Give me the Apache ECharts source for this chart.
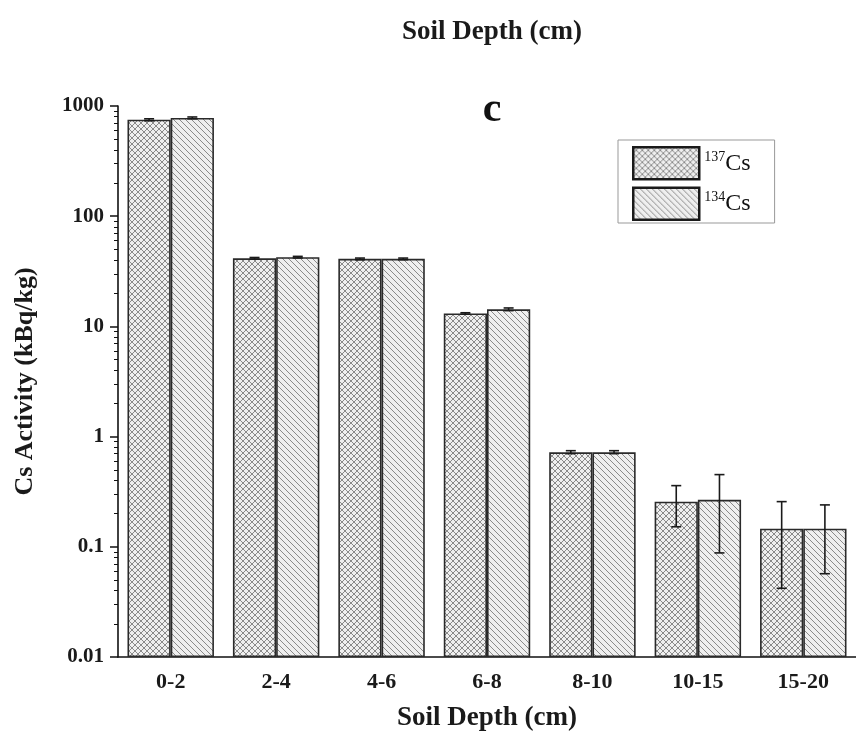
<!DOCTYPE html>
<html>
<head>
<meta charset="utf-8">
<script src="https://cdn.jsdelivr.net/npm/echarts@6/dist/echarts.min.js"></script>
<style>
  html, body { margin: 0; padding: 0; background: #fff; }
  #chart { width: 856px; height: 745px; }
</style>
</head>
<body>
<div id="chart"></div>
<script>
var depths = ['0-2', '2-4', '4-6', '6-8', '8-10', '10-15', '15-20'];
var cs137 = [750, 41.5, 41, 13.1, 0.72, 0.257, 0.146];
var cs134 = [780, 42.5, 41, 14.3, 0.72, 0.267, 0.146];
// error bar ends [low, high]
var err137 = [[735, 765], [40.8, 42.2], [40.3, 41.7], [12.9, 13.3], [0.70, 0.745], [0.152, 0.359], [0.042, 0.257]];
var err134 = [[765, 795], [41.8, 43.2], [40.3, 41.7], [13.9, 14.7], [0.70, 0.745], [0.088, 0.452], [0.057, 0.24]];
var yTicks = [0.01, 0.1, 1, 10, 100, 1000];
var yMinorTicks = [];
[0.01, 0.1, 1, 10, 100].forEach(function(d) {
    for (var k = 2; k <= 9; k++) { yMinorTicks.push(+(d * k).toPrecision(3)); }
});

var FONT = 'Liberation Serif';
var CAT_GAP = 0.18;
var Y_MIN = 0.01;

// fill patterns
var make_pattern = function(kind) {
    var s = 6;
    var c = document.createElement('canvas');
    c.width = s; c.height = s;
    var ctx = c.getContext('2d');
    ctx.fillStyle = '#efefef';
    ctx.fillRect(0, 0, s, s);
    ctx.strokeStyle = '#8a8a8a';
    ctx.lineWidth = 1;
    ctx.beginPath();
    for (var k = -1; k <= 1; k++) {
        ctx.moveTo(k * s, 0); ctx.lineTo(k * s + s, s);
        if (kind == 'cross') {
            ctx.moveTo(k * s + s, 0); ctx.lineTo(k * s, s);
        }
    }
    ctx.stroke();
    return c;
};
var pat137 = make_pattern('cross');
var pat134 = make_pattern('diag');

// bars on a log axis start at 1, so stack them on an invisible base at the axis min
var make_bar_pair = function(name, vals, pat) {
    var base = {
        name: name + '_base',
        type: 'bar',
        stack: name,
        data: vals.map(function() { return Y_MIN; }),
        barGap: '0%',
        barCategoryGap: (CAT_GAP * 100) + '%',
        itemStyle: { color: 'rgba(0,0,0,0)' },
        silent: true
    };
    var bar = {
        name: name,
        type: 'bar',
        stack: name,
        data: vals.map(function(v) { return v - Y_MIN; }),
        barGap: '0%',
        barCategoryGap: (CAT_GAP * 100) + '%',
        itemStyle: { color: { image: pat, repeat: 'repeat' }, borderColor: '#2a2a2a', borderWidth: 1.6 }
    };
    return [base, bar];
};

var make_err_series = function(name, err, side) {
    return {
        name: name,
        type: 'custom',
        z: 10,
        data: err.map(function(e, i) { return [i, e[0], e[1]]; }),
        encode: { x: 0, y: [1, 2] },
        renderItem: function(params, api) {
            var i = api.value(0);
            var lo = api.coord([i, api.value(1)]);
            var hi = api.coord([i, api.value(2)]);
            var band = api.size([1, 0])[0];
            var x = lo[0] + side * band * (1 - CAT_GAP) / 4;
            var cap = 5;
            var st = { stroke: '#1a1a1a', lineWidth: 1.6 };
            return {
                type: 'group',
                children: [
                    { type: 'line', shape: { x1: x, y1: lo[1], x2: x, y2: hi[1] }, style: st },
                    { type: 'line', shape: { x1: x - cap, y1: lo[1], x2: x + cap, y2: lo[1] }, style: st },
                    { type: 'line', shape: { x1: x - cap, y1: hi[1], x2: x + cap, y2: hi[1] }, style: st }
                ]
            };
        }
    };
};

var series = [].concat(
    make_bar_pair('137Cs', cs137, pat137),
    make_bar_pair('134Cs', cs134, pat134),
    [make_err_series('err137', err137, -1), make_err_series('err134', err134, 1)]
);

var chart = echarts.init(document.getElementById('chart'));
var option = {
    animation: false,
    backgroundColor: '#fff',
    title: [{
        text: 'Soil Depth (cm)',
        left: 487, top: 14, textAlign: 'center',
        textStyle: { fontFamily: FONT, fontWeight: 'bold', fontSize: 27, color: '#1a1a1a' }
    }, {
        text: 'c',
        left: 487, top: 84, textAlign: 'center',
        textStyle: { fontFamily: FONT, fontWeight: 'bold', fontSize: 42, color: '#111' }
    }],
    legend: {
        orient: 'vertical',
        left: 618, top: 140,
        data: ['137Cs', '134Cs'],
        icon: 'rect',
        itemWidth: 66, itemHeight: 32, itemGap: 6,
        padding: [6, 24, 2, 14],
        borderColor: '#999', borderWidth: 1,
        itemStyle: { borderColor: '#1a1a1a', borderWidth: 2.5 },
        formatter: function(name) {
            return '{s|' + name.slice(0, 3) + '}{n|Cs}';
        },
        textStyle: {
            rich: {
                s: { fontFamily: FONT, fontSize: 14, color: '#111', padding: [0, 0, 12, 0] },
                n: { fontFamily: FONT, fontSize: 24, color: '#111' }
            }
        }
    },
    grid: { left: 118, top: 106, width: 744, bottom: 88, containLabel: false },
    xAxis: [{
        type: 'category',
        data: depths,
        name: 'Soil Depth (cm)',
        nameLocation: 'middle',
        nameGap: 48,
        nameTextStyle: { fontFamily: FONT, fontWeight: 'bold', fontSize: 27, color: '#1a1a1a' },
        axisLine: { lineStyle: { color: '#111', width: 1.6 } },
        axisTick: { alignWithLabel: true, length: 8, lineStyle: { color: '#111', width: 1.5 } },
        axisLabel: { fontFamily: FONT, fontWeight: 'bold', fontSize: 22, color: '#1a1a1a', margin: 14 }
    }, {
        type: 'category',
        data: depths,
        position: 'bottom',
        axisLine: { show: false },
        axisTick: { length: 4, lineStyle: { color: '#111', width: 1.2 } },
        axisLabel: { show: false }
    }],
    yAxis: [{
        type: 'log',
        logBase: 10,
        min: Y_MIN,
        max: 1000,
        name: 'Cs Activity (kBq/kg)',
        nameLocation: 'middle',
        nameGap: 80,
        nameTextStyle: { fontFamily: FONT, fontWeight: 'bold', fontSize: 26, color: '#1a1a1a' },
        axisLine: { show: true, lineStyle: { color: '#111', width: 1.6 } },
        axisTick: { show: true, length: 8, customValues: yTicks, lineStyle: { color: '#111', width: 1.5 } },
        splitLine: { show: false },
        axisLabel: {
            customValues: yTicks,
            fontFamily: FONT, fontWeight: 'bold', fontSize: 21, color: '#1a1a1a', margin: 14,
            formatter: function(v) { return String(+(+v).toPrecision(6)); }
        }
    }, {
        type: 'log',
        logBase: 10,
        min: Y_MIN,
        max: 1000,
        position: 'left',
        axisLine: { show: false },
        axisTick: { show: true, length: 4, customValues: yMinorTicks, lineStyle: { color: '#111', width: 1 } },
        axisLabel: { show: false },
        splitLine: { show: false }
    }],
    series: series
};
chart.setOption(option);
</script>
</body>
</html>
